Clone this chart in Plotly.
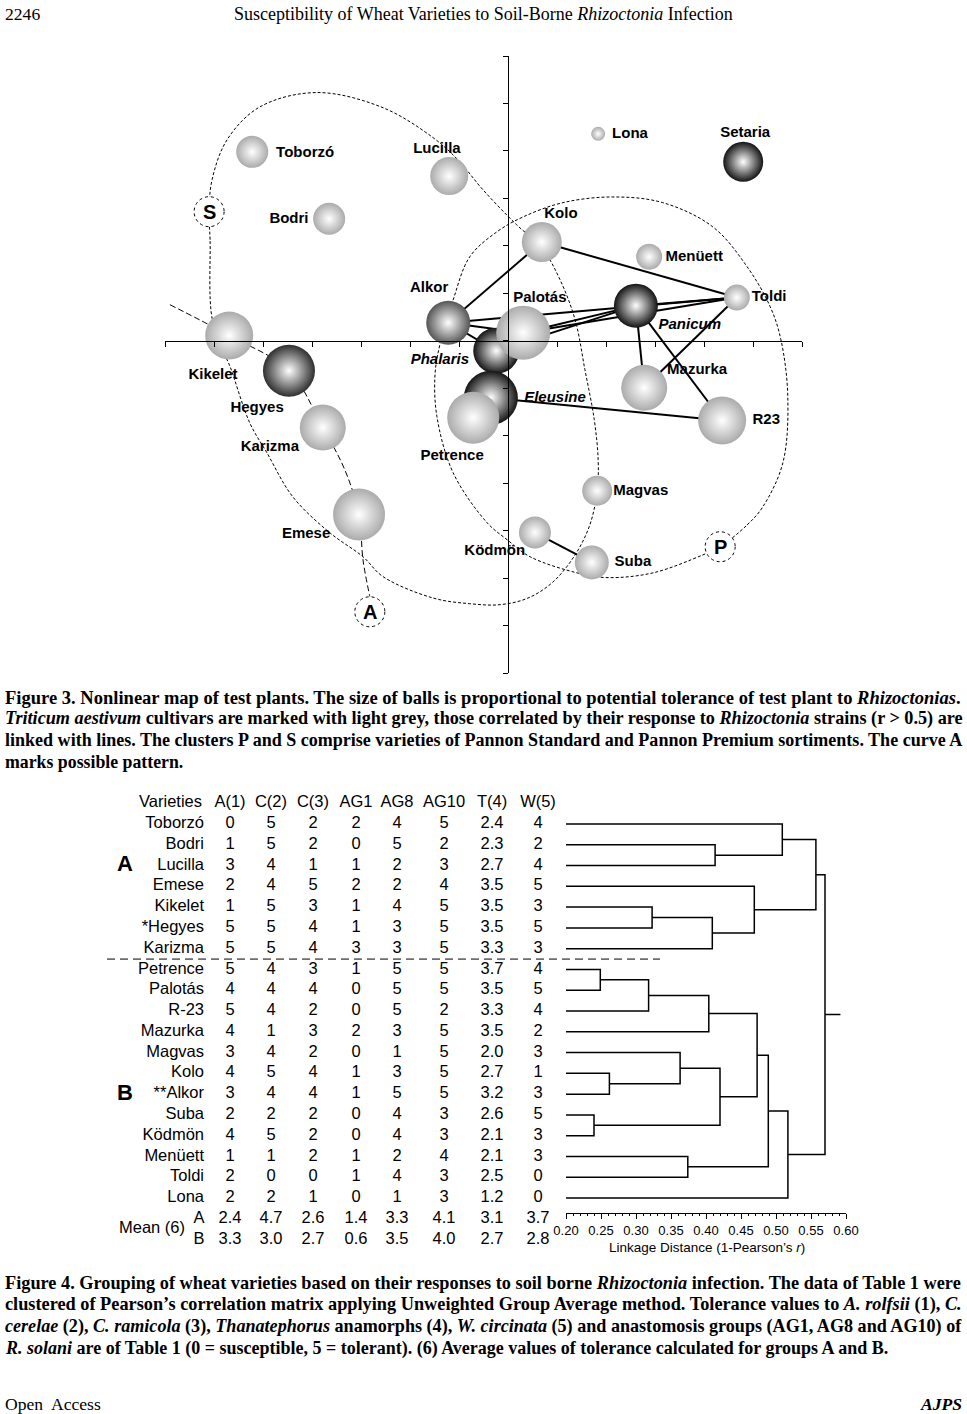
import plotly.graph_objects as go

W, H = 967, 1414


def pxx(px):
    return px / W


def pxy(py):
    return 1 - py / H


# ---------------- Figure 3 data (map units: one tick = 1) ----------------
plants = ["Toborzó", "Bodri", "Lucilla", "Kikelet", "Hegyes", "Karizma", "Emese",
          "Alkor", "Phalaris", "Eleusine", "Palotás", "Petrence", "Kolo", "Lona",
          "Setaria", "Menüett", "Toldi", "Panicum", "Mazurka", "R23", "Magvas",
          "Ködmön", "Suba"]
map_x = [-5.22, -3.65, -1.20, -5.69, -4.47, -3.78, -3.04,
         -1.22, -0.24, -0.35, 0.31, -0.71, 0.69, 1.84,
         4.80, 2.88, 4.67, 2.61, 2.78, 4.37, 1.82,
         0.55, 1.71]
map_y = [3.98, 2.57, 3.47, 0.11, -0.63, -1.83, -3.66,
         0.38, -0.21, -1.20, 0.17, -1.62, 2.08, 4.36,
         3.77, 1.77, 0.91, 0.74, -0.99, -1.68, -3.16,
         -4.04, -4.67]
tolerance = [32, 32, 38, 48, 52, 46, 52,
             44, 46, 54, 54, 52, 40, 14,
             40, 26, 26, 44, 46, 48, 30,
             32, 34]
plant_kind = ["wheat", "wheat", "wheat", "wheat", "marked", "wheat", "wheat",
              "marked2", "weed", "weed", "wheat", "wheat", "wheat", "wheat",
              "weed", "wheat", "wheat", "weed", "wheat", "wheat", "wheat",
              "wheat", "wheat"]
label_x = [-4.14, -4.47, -1.45, -6.02, -5.12, -4.86, -4.12,
           -1.61, -1.39, 0.96, 0.65, -1.14, 1.08, 2.49,
           4.84, 3.80, 5.33, 3.71, 3.86, 5.27, 2.71,
           -0.27, 2.55]
label_y = [3.96, 2.55, 4.04, -0.72, -1.43, -2.25, -4.08,
           1.11, -0.40, -1.22, 0.90, -2.44, 2.67, 4.36,
           4.38, 1.77, 0.91, 0.32, -0.63, -1.68, -3.18,
           -4.44, -4.67]
italic_names = ["Phalaris", "Eleusine", "Panicum"]

links = [("Alkor", "Kolo"), ("Alkor", "Toldi"), ("Alkor", "Phalaris"), ("Alkor", "Palotás"),
         ("Phalaris", "Panicum"), ("Palotás", "Panicum"), ("Palotás", "Toldi"),
         ("Panicum", "Toldi"), ("Kolo", "Toldi"), ("Panicum", "Mazurka"),
         ("Panicum", "R23"), ("Toldi", "Mazurka"), ("Eleusine", "R23"), ("Ködmön", "Suba")]

curve_s_x = [-6.04, -6.08, -6.10, -6.04, -5.73, -5.06, -3.90, -2.55, -1.53, -1.02, -0.51,
             0.18, 0.69, 1.06, 1.37, 1.57, 1.76, 1.84, 1.82, 1.67, 1.37, 0.92, 0.41,
             -0.16, -0.78, -1.53, -2.55, -2.96, -3.63, -4.39, -4.92, -5.27, -5.67, -5.78, -6.04]
curve_s_y = [0.48, 2.13, 2.72, 3.39, 4.24, 4.93, 5.23, 4.91, 4.28, 3.81, 3.18,
             2.44, 1.96, 1.29, 0.44, -0.61, -1.66, -2.51, -3.16, -3.88, -4.51, -5.08, -5.42,
             -5.56, -5.54, -5.42, -4.97, -4.55, -4.05, -3.29, -2.36, -1.73, -0.55, -0.29, 0.48]
curve_p_x = [4.33, 4.88, 5.20, 5.61, 5.71, 5.57, 5.35, 4.88, 4.18, 3.16, 2.14, 1.12, 0.31,
             -0.22, -0.78, -1.12, -1.39, -1.49, -1.45, -1.12, -0.43, -0.02, 0.45, 1.41,
             2.02, 2.96, 3.98, 4.33]
curve_p_y = [-4.34, -3.88, -3.50, -2.57, -1.18, 0.02, 0.72, 1.56, 2.40, 2.91, 3.03, 2.91, 2.61,
             2.30, 1.77, 0.86, -0.08, -0.72, -1.60, -2.78, -3.83, -4.19, -4.55, -4.89,
             -4.99, -4.89, -4.51, -4.34]
curve_a_x = [-6.90, -5.69, -4.47, -3.78, -3.33, -3.04, -2.96, -2.82]
curve_a_y = [0.76, 0.11, -0.63, -1.83, -2.72, -3.67, -4.61, -5.39]

cluster_names = ["S", "A", "P"]
cluster_x = [-6.10, -2.82, 4.33]
cluster_y = [2.72, -5.71, -4.34]

# ---------------- Figure 4 data ----------------
varieties = ["Toborzó", "Bodri", "Lucilla", "Emese", "Kikelet", "*Hegyes", "Karizma",
             "Petrence", "Palotás", "R-23", "Mazurka", "Magvas", "Kolo", "**Alkor",
             "Suba", "Ködmön", "Menüett", "Toldi", "Lona"]
col_headers = ["A(1)", "C(2)", "C(3)", "AG1", "AG8", "AG10", "T(4)", "W(5)"]
A1 = [0, 1, 3, 2, 1, 5, 5, 5, 4, 5, 4, 3, 4, 3, 2, 4, 1, 2, 2]
C2 = [5, 5, 4, 4, 5, 5, 5, 4, 4, 4, 1, 4, 5, 4, 2, 5, 1, 0, 2]
C3 = [2, 2, 1, 5, 3, 4, 4, 3, 4, 2, 3, 2, 4, 4, 2, 2, 2, 0, 1]
AG1 = [2, 0, 1, 2, 1, 1, 3, 1, 0, 0, 2, 0, 1, 1, 0, 0, 1, 1, 0]
AG8 = [4, 5, 2, 2, 4, 3, 3, 5, 5, 5, 3, 1, 3, 5, 4, 4, 2, 4, 1]
AG10 = [5, 2, 3, 4, 5, 5, 5, 5, 5, 2, 5, 5, 5, 5, 3, 3, 4, 3, 3]
T4 = [2.4, 2.3, 2.7, 3.5, 3.5, 3.5, 3.3, 3.7, 3.5, 3.3, 3.5, 2.0, 2.7, 3.2, 2.6, 2.1, 2.1, 2.5, 1.2]
W5 = [4, 2, 4, 5, 3, 5, 3, 4, 5, 4, 2, 3, 1, 3, 5, 3, 3, 0, 0]
mean_A = [2.4, 4.7, 2.6, 1.4, 3.3, 4.1, 3.1, 3.7]
mean_B = [3.3, 3.0, 2.7, 0.6, 3.5, 4.0, 2.7, 2.8]

# linkage: (child1, child2, distance); leaves are 0..18 in table order, clusters 19..
merges = [(1, 2, 0.413), (0, 19, 0.509), (4, 5, 0.323), (21, 6, 0.409), (3, 22, 0.469),
          (20, 23, 0.557), (7, 8, 0.249), (25, 9, 0.318), (26, 10, 0.404), (12, 13, 0.262),
          (11, 28, 0.363), (14, 15, 0.240), (29, 30, 0.420), (27, 31, 0.473), (16, 17, 0.374),
          (32, 33, 0.489), (34, 18, 0.517), (24, 35, 0.570)]
root_stem = 0.592
dist_min, dist_max = 0.20, 0.60
dist_ticks = [0.20, 0.25, 0.30, 0.35, 0.40, 0.45, 0.50, 0.55, 0.60]

# ---------------- layout geometry (pixels on page) ----------------
MAP_X0, MAP_X1 = 165, 802
MAP_Y0, MAP_Y1 = 56, 673
map_range = [-7, 6]
ux = (MAP_X1 - MAP_X0) / (map_range[1] - map_range[0])
uy = (MAP_Y1 - MAP_Y0) / (map_range[1] - map_range[0])
ROW0, ROWH = 824, 20.78
row_top, row_bot = -1.5, 20.5
D_X0, D_X1, D_AXIS = 566, 846, 1213

serif = "Liberation Serif, Times New Roman, serif"
sans = "Liberation Sans, Arial, sans-serif"

fig = go.Figure()

# ---------- Figure 3 ----------
lx, ly = [], []
for a, b in links:
    i, j = plants.index(a), plants.index(b)
    lx += [map_x[i], map_x[j], None]
    ly += [map_y[i], map_y[j], None]
fig.add_trace(go.Scatter(x=lx, y=ly, mode="lines", line=dict(color="black", width=2),
                         hoverinfo="skip", cliponaxis=False))

for cx, cy, dash in [(curve_s_x, curve_s_y, "3px,2px"), (curve_p_x, curve_p_y, "3px,2px"),
                     (curve_a_x, curve_a_y, "6px,3px")]:
    fig.add_trace(go.Scatter(x=cx, y=cy, mode="lines",
                             line=dict(color="black", width=1, dash=dash, shape="spline", smoothing=1.0),
                             hoverinfo="skip", cliponaxis=False))

edge_color = {"wheat": "#ababab", "marked": "#2e2e2e", "marked2": "#555555", "weed": "#141414"}
fig.add_trace(go.Scatter(
    x=map_x, y=map_y, mode="markers", cliponaxis=False,
    marker=dict(size=tolerance, color=[edge_color[k] for k in plant_kind],
                gradient=dict(type="radial", color="white"), line=dict(width=0), opacity=1),
    hovertext=plants, hoverinfo="text"))

label_text = [("<b><i>%s</i></b>" % n) if n in italic_names else ("<b>%s</b>" % n) for n in plants]
fig.add_trace(go.Scatter(x=label_x, y=label_y, mode="text", text=label_text,
                         textposition="middle center", cliponaxis=False,
                         textfont=dict(family=sans, size=15, color="black"), hoverinfo="skip"))

r_px = 15
for n, cx, cy in zip(cluster_names, cluster_x, cluster_y):
    fig.add_shape(type="circle", xref="x", yref="y", x0=cx - r_px / ux, x1=cx + r_px / ux,
                  y0=cy - r_px / uy, y1=cy + r_px / uy, layer="above",
                  line=dict(color="black", width=1, dash="dot"), fillcolor="white")
    fig.add_annotation(x=cx, y=cy, xref="x", yref="y", text="<b>%s</b>" % n, showarrow=False,
                       font=dict(family=sans, size=20, color="black"))

# ---------- Figure 4: dendrogram ----------
node_y = {i: float(i) for i in range(len(varieties))}
node_h = {i: dist_min for i in range(len(varieties))}
dx, dy = [], []
for k, (c1, c2, h) in enumerate(merges):
    nid = len(varieties) + k
    dx += [node_h[c1], h, h, node_h[c2], None]
    dy += [node_y[c1], node_y[c1], node_y[c2], node_y[c2], None]
    node_y[nid] = (node_y[c1] + node_y[c2]) / 2
    node_h[nid] = h
root = len(varieties) + len(merges) - 1
dx += [node_h[root], root_stem]
dy += [node_y[root], node_y[root]]
fig.add_trace(go.Scatter(x=dx, y=dy, mode="lines", line=dict(color="black", width=1.5),
                         xaxis="x2", yaxis="y2", hoverinfo="skip", cliponaxis=False))

# ---------- Figure 4: table ----------
name_right = 204
col_x = [230, 271, 313, 356, 397, 444, 492, 538]
rows = list(range(len(varieties)))
tfont = dict(family=sans, size=16.5, color="black")
fig.add_trace(go.Scatter(x=[name_right] * len(rows), y=rows, text=varieties, mode="text",
                         textposition="middle left", textfont=tfont, xaxis="x3", yaxis="y2",
                         hoverinfo="skip", cliponaxis=False))
columns = [A1, C2, C3, AG1, AG8, AG10, T4, W5]
for ci, (vals, cx) in enumerate(zip(columns, col_x)):
    txt = [("%.1f" % v) if ci == 6 else str(v) for v in vals]
    fig.add_trace(go.Scatter(x=[cx] * len(rows), y=rows, text=txt, mode="text",
                             textposition="middle center", textfont=tfont, xaxis="x3", yaxis="y2",
                             hoverinfo="skip", cliponaxis=False))
fig.add_trace(go.Scatter(x=[name_right - 2] + col_x, y=[-1] * 9, text=["Varieties"] + col_headers,
                         mode="text", textposition=["middle left"] + ["middle center"] * 8,
                         textfont=tfont, xaxis="x3", yaxis="y2", hoverinfo="skip", cliponaxis=False))
nA, nB = len(rows), len(rows) + 1
fig.add_trace(go.Scatter(x=col_x + col_x, y=[nA] * 8 + [nB] * 8,
                         text=["%.1f" % v for v in mean_A] + ["%.1f" % v for v in mean_B],
                         mode="text", textfont=tfont, xaxis="x3", yaxis="y2",
                         hoverinfo="skip", cliponaxis=False))
fig.add_trace(go.Scatter(x=[152, 199, 199], y=[(nA + nB) / 2, nA, nB], text=["Mean (6)", "A", "B"],
                         mode="text", textfont=tfont, xaxis="x3", yaxis="y2",
                         hoverinfo="skip", cliponaxis=False))
fig.add_trace(go.Scatter(x=[125, 125], y=[2, 13], text=["<b>A</b>", "<b>B</b>"], mode="text",
                         textfont=dict(family=sans, size=22, color="black"), xaxis="x3", yaxis="y2",
                         hoverinfo="skip", cliponaxis=False))
fig.add_trace(go.Scatter(x=[107, 660], y=[6.5, 6.5], mode="lines",
                         line=dict(color="black", width=1, dash="8px,5px"), xaxis="x3", yaxis="y2",
                         hoverinfo="skip", cliponaxis=False))

# ---------- page text ----------
ann = []


def text(x, y, s, size=17.6, anchor="left", family=serif):
    ann.append(dict(x=pxx(x), y=pxy(y), xref="paper", yref="paper", text=s, showarrow=False,
                    xanchor=anchor, yanchor="middle", font=dict(family=family, size=size, color="black")))


text(3, 14, "2246")
text(483, 14, "Susceptibility of Wheat Varieties to Soil-Borne <i>Rhizoctonia</i> Infection", 18, "center")
cap3 = ["<b>Figure 3. Nonlinear map of test plants. The size of balls is proportional to potential tolerance of test plant to <i>Rhizoctonias</i>.</b>",
        "<b><i>Triticum aestivum</i> cultivars are marked with light grey, those correlated by their response to <i>Rhizoctonia</i> strains (r > 0.5) are</b>",
        "<b>linked with lines. The clusters P and S comprise varieties of Pannon Standard and Pannon Premium sortiments. The curve A</b>",
        "<b>marks possible pattern.</b>"]
cap3_size = [18.55, 18.2, 18.05, 17.8]
for i, (s, fs) in enumerate(zip(cap3, cap3_size)):
    text(3, 697 + 21.7 * i, s, fs)
cap4 = ["<b>Figure 4. Grouping of wheat varieties based on their responses to soil borne <i>Rhizoctonia</i> infection. The data of Table 1 were</b>",
        "<b>clustered of Pearson’s correlation matrix applying Unweighted Group Average method. Tolerance values to <i>A. rolfsii</i> (1), <i>C.</i></b>",
        "<b><i>cerelae</i> (2), <i>C. ramicola</i> (3), <i>Thanatephorus</i> anamorphs (4), <i>W. circinata</i> (5) and anastomosis groups (AG1, AG8 and AG10) of</b>",
        "<b><i>R. solani</i> are of Table 1 (0 = susceptible, 5 = tolerant). (6) Average values of tolerance calculated for groups A and B.</b>"]
cap4_size = [18.3, 18.3, 18.13, 18.0]
for i, (s, fs) in enumerate(zip(cap4, cap4_size)):
    text(3, 1283 + 21.7 * i, s, fs)
text(3, 1404, "Open  Access")
text(964, 1404, "<b><i>AJPS</i></b>", 17.6, "right")
text(707, 1247, "Linkage Distance (1-Pearson’s <i>r</i>)", 13.5, "center", sans)
for a in ann:
    fig.add_annotation(**a)

fig.update_layout(
    width=W, height=H, margin=dict(l=0, r=0, t=0, b=0, pad=0, autoexpand=False), autosize=False,
    paper_bgcolor="white", plot_bgcolor="rgba(0,0,0,0)", showlegend=False,
    xaxis=dict(domain=[pxx(MAP_X0), pxx(MAP_X1)], range=map_range, anchor="free",
               position=pxy(MAP_Y0 + map_range[1] * uy), showgrid=False, zeroline=False,
               showline=True, linecolor="black", linewidth=1.3, ticks="outside", ticklen=5,
               tickwidth=1, tickcolor="black", dtick=1, tick0=0, showticklabels=False),
    yaxis=dict(domain=[pxy(MAP_Y1), pxy(MAP_Y0)], range=map_range, anchor="free",
               position=pxx(MAP_X0 - map_range[0] * ux), showgrid=False, zeroline=False,
               showline=True, linecolor="black", linewidth=1.3, ticks="outside", ticklen=5,
               tickwidth=1, tickcolor="black", dtick=1, tick0=0, showticklabels=False),
    xaxis2=dict(domain=[pxx(D_X0), pxx(D_X1)], range=[dist_min, dist_max], anchor="free",
                position=pxy(D_AXIS), showgrid=False, zeroline=False, showline=True,
                linecolor="black", linewidth=1, ticks="outside", ticklen=5, tickcolor="black",
                tickvals=dist_ticks, tickformat=".2f",
                tickfont=dict(family=sans, size=13, color="black"),
                minor=dict(dtick=0.01, ticks="outside", ticklen=2, tickcolor="black")),
    yaxis2=dict(domain=[pxy(ROW0 + row_bot * ROWH), pxy(ROW0 + row_top * ROWH)],
                range=[row_bot, row_top], anchor="x2", visible=False),
    xaxis3=dict(domain=[0, 1], range=[0, W], anchor="y2", visible=False),
)

fig.write_html("out.html", config={"displayModeBar": False},
               post_script="document.body.style.margin='0';")
